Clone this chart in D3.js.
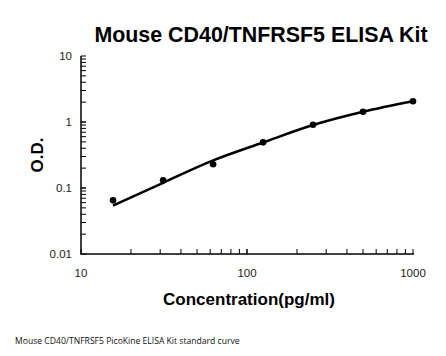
<!DOCTYPE html>
<html><head><meta charset="utf-8">
<script src="https://cdn.jsdelivr.net/npm/d3@7"></script>
<style>html,body{margin:0;padding:0;background:#fff;}svg{display:block;}</style>
</head><body>
<script>
const concentrations = [15.6, 31.25, 62.5, 125, 250, 500, 1000];
const odValues = [0.065, 0.131, 0.229, 0.492, 0.91, 1.43, 2.06];
const fitConc = [15.6, 31.25, 62.5, 125, 250, 500, 1000];
const fitOD = [0.054, 0.12, 0.262, 0.49, 0.9, 1.43, 2.06];
const xTicks = [10, 100, 1000];
const yTicks = [0.01, 0.1, 1, 10];
const yTickLabels = ["0.01", "0.1", "1", "10"];

const W = 446, H = 356;
const svg = d3.select("body").append("svg").attr("width", W).attr("height", H);
const x = d3.scaleLog().domain([10, 1000]).range([81, 413]);
const y = d3.scaleLog().domain([0.01, 10]).range([254, 56]);

// minor ticks
const yMinor = [];
for (let d = 0.01; d < 10; d *= 10) for (let k = 1; k <= 10; k++) yMinor.push(+(d * k).toPrecision(3));
const xMinor = [];
for (let d = 10; d < 1000; d *= 10) for (let k = 1; k <= 10; k++) xMinor.push(d * k);

const g = svg.append("g");
g.selectAll(".ytk").data(yMinor).enter().append("line")
  .attr("x1", 81).attr("x2", 86).attr("y1", d => y(d)).attr("y2", d => y(d))
  .attr("stroke", "#000").attr("stroke-width", 1);
g.selectAll(".xtk").data(xMinor).enter().append("line")
  .attr("x1", d => x(d)).attr("x2", d => x(d)).attr("y1", 254).attr("y2", 249)
  .attr("stroke", "#000").attr("stroke-width", 1);
g.append("line").attr("x1", 81).attr("x2", 81).attr("y1", 56).attr("y2", 254.5).attr("stroke", "#000").attr("stroke-width", 1.5);
g.append("line").attr("x1", 80.5).attr("x2", 414).attr("y1", 254).attr("y2", 254).attr("stroke", "#000").attr("stroke-width", 1.5);

const font = "Arial, 'Liberation Sans', sans-serif";
g.selectAll(".yl").data(yTicks).enter().append("text")
  .attr("x", 72).attr("y", d => y(d) + 4).attr("text-anchor", "end")
  .attr("font-family", font).attr("font-size", 11.5).attr("fill", "#222")
  .text((d, i) => yTickLabels[i]);
g.selectAll(".xl").data(xTicks).enter().append("text")
  .attr("x", d => x(d)).attr("y", 277).attr("text-anchor", "middle")
  .attr("font-family", font).attr("font-size", 11.5).attr("fill", "#222")
  .text(d => d);

// fitted curve
const line = d3.line().x((d, i) => x(fitConc[i])).y(d => y(d)).curve(d3.curveMonotoneX);
g.append("path").attr("d", line(fitOD)).attr("fill", "none").attr("stroke", "#000").attr("stroke-width", 2.5);

g.selectAll(".pt").data(odValues).enter().append("circle")
  .attr("cx", (d, i) => x(concentrations[i])).attr("cy", d => y(d)).attr("r", 3.3).attr("fill", "#000");

svg.append("text").attr("x", 261).attr("y", 42).attr("text-anchor", "middle")
  .attr("font-family", font).attr("font-weight", "bold").attr("font-size", 21.4).text("Mouse CD40/TNFRSF5 ELISA Kit");
svg.append("text").attr("transform", "translate(43,155) rotate(-90)").attr("text-anchor", "middle")
  .attr("font-family", font).attr("font-weight", "bold").attr("font-size", 17).text("O.D.");
svg.append("text").attr("x", 249).attr("y", 305).attr("text-anchor", "middle")
  .attr("font-family", font).attr("font-weight", "bold").attr("font-size", 17).text("Concentration(pg/ml)");
svg.append("text").attr("x", 15).attr("y", 344)
  .attr("font-family", "'Open Sans', sans-serif").attr("font-size", 8.6).attr("fill", "#111")
  .text("Mouse CD40/TNFRSF5 PicoKine ELISA Kit standard curve");
</script>
</body></html>
